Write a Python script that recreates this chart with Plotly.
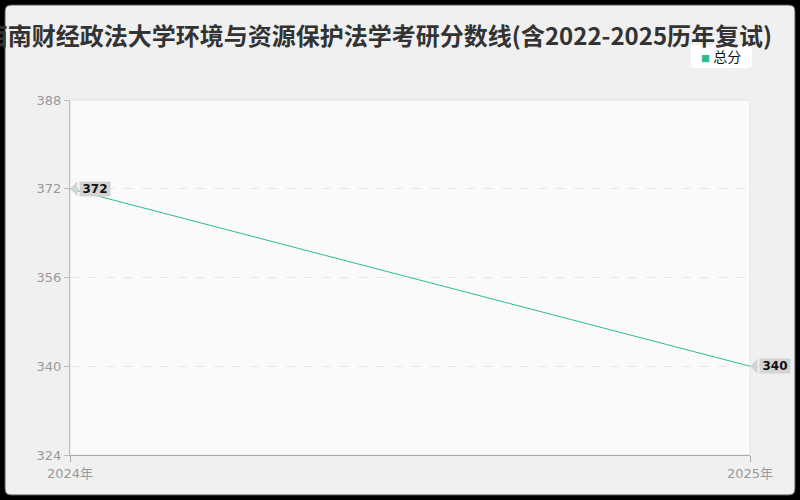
import plotly.graph_objects as go

# data
years = ["2024年", "2025年"]
total_scores = [372, 340]
y_ticks = [324, 340, 356, 372, 388]
series_name = "总分"
title_text = "西南财经政法大学环境与资源保护法学考研分数线(含2022-2025历年复试)"

GREEN = "#2bbf8a"
CJK = "Noto Sans CJK SC"
FONT = "DejaVu Sans, Noto Sans CJK SC"
LABEL_BG = "#d3d3d3"

W, H = 800, 500
ML, MR, MT, MB = 70, 50, 100, 45
pw, ph = W - ML - MR, H - MT - MB


def px_x(p):
    return (p - ML) / pw


def px_y(p):
    return (H - MB - p) / ph


def rounded(xa, xb, ya, yb, r):
    # rounded rectangle in paper coords from pixel box
    x0, x1 = px_x(xa), px_x(xb)
    y0, y1 = px_y(yb), px_y(ya)
    rx, ry = r / pw, r / ph
    return (f"M {x0+rx} {y1} L {x1-rx} {y1} Q {x1} {y1} {x1} {y1-ry} "
            f"L {x1} {y0+ry} Q {x1} {y0} {x1-rx} {y0} L {x0+rx} {y0} "
            f"Q {x0} {y0} {x0} {y0+ry} L {x0} {y1-ry} Q {x0} {y1} {x0+rx} {y1} Z")


fig = go.Figure()

fig.add_trace(go.Scatter(
    x=years, y=total_scores, mode="lines", name=series_name,
    line=dict(color=GREEN, width=1),
    showlegend=False, hoverinfo="skip",
))

# value labels, arrow pointing at the point
for x, y in zip(years, total_scores):
    fig.add_annotation(
        x=x, y=y, text="<b>%d</b>" % y,
        showarrow=True, ax=9, ay=0, xanchor="left",
        arrowhead=1, arrowsize=2.5, arrowwidth=1, arrowcolor=LABEL_BG,
        standoff=0, bgcolor=LABEL_BG,
        width=30, height=14, align="center",
        font=dict(family="DejaVu Sans", size=12, color="#111"),
        borderpad=0,
    )

# legend box
fig.add_shape(type="path", path=rounded(691, 752, 45, 68, 4),
              xref="paper", yref="paper", fillcolor="#ffffff",
              line=dict(width=0), layer="above")
fig.add_annotation(
    x=px_x(699), y=px_y(56.5), xref="paper", yref="paper",
    xanchor="left", yanchor="middle", showarrow=False,
    text="<span style='color:%s;font-size:9px'>■</span> %s" % (GREEN, series_name),
    align="left",
    font=dict(family=CJK, size=14, color="#111"),
)

# rounded frame and plot area
fig.add_shape(type="path", path=rounded(5, 795, 5, 495, 6), xref="paper", yref="paper",
              fillcolor="#f0f0f0", line=dict(color="#555", width=1), layer="below")
fig.add_shape(type="rect", xref="paper", yref="paper", x0=0, x1=1, y0=0, y1=1,
              fillcolor="#fafafa", line=dict(color="#e4e4e4", width=1), layer="below")

fig.update_layout(
    width=W, height=H,
    margin=dict(l=ML, r=MR, t=MT, b=MB),
    paper_bgcolor="#000000",
    plot_bgcolor="rgba(0,0,0,0)",
    font=dict(family=FONT, color="#999"),
    showlegend=False,
    title=dict(
        text="<b>%s</b>" % title_text,
        x=0.4725, xref="container", xanchor="center",
        y=1 - 37 / H, yref="container", yanchor="middle",
        font=dict(family=CJK, size=24, color="#333"),
    ),
    xaxis=dict(
        type="category", range=[0, 1], showgrid=False,
        showline=True, linecolor="#aaa", linewidth=1,
        ticks="outside", ticklen=6, tickcolor="#aaa",
        tickfont=dict(family=FONT, size=13, color="#999"),
        zeroline=False,
    ),
    yaxis=dict(
        range=[y_ticks[0], y_ticks[-1]], tickvals=y_ticks,
        showline=True, linecolor="#bbb", linewidth=1,
        ticks="outside", ticklen=5, tickcolor="#bbb",
        showgrid=True, gridcolor="#e6e6e6", griddash="dash", gridwidth=1,
        tickfont=dict(family=FONT, size=13, color="#999"),
        zeroline=False,
    ),
)

fig.write_html("out.html", config={"displayModeBar": False},
               post_script="document.body.style.margin='0';")
